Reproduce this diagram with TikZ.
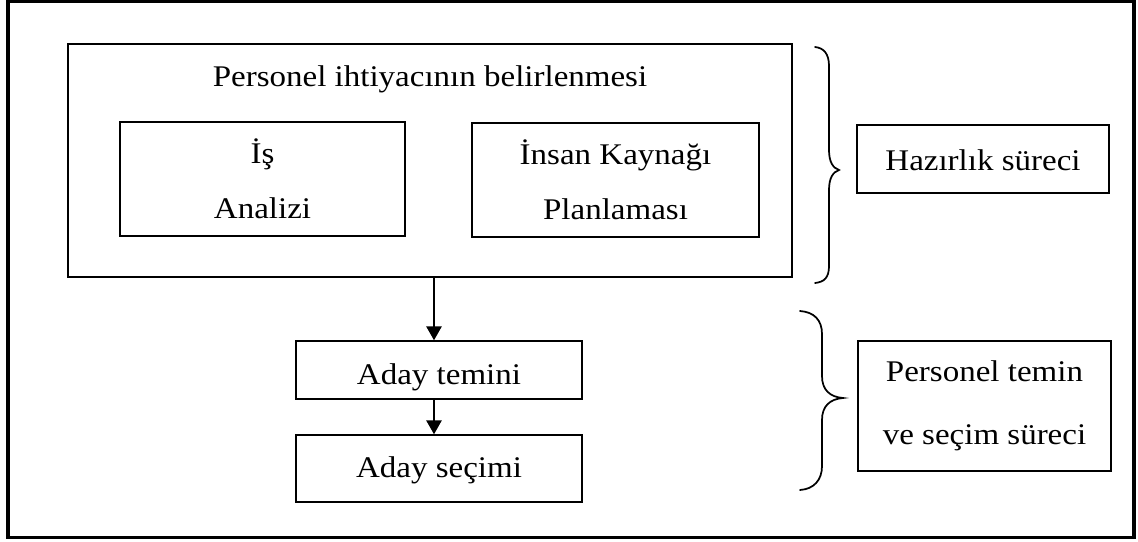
\documentclass[tikz,border=0pt]{standalone}
\usepackage{fontspec}
\setmainfont[FakeStretch=1.1]{Liberation Serif}
\usetikzlibrary{arrows.meta}
\begin{document}
\begin{tikzpicture}[x=0.75pt,y=-0.75pt,
  txt/.style={font=\fontsize{22.5}{41}\selectfont},
  box/.style={draw, line width=1.1pt, inner sep=0pt, align=center, txt},
  arr/.style={line width=1.5pt, -{Triangle[length=10.5pt,width=11.5pt]}},
  brace/.style={line width=1.3pt, line cap=round}]
\useasboundingbox (0,0) rectangle (1138,542);
% outer frame
\draw[line width=2.6pt] (8,1.5) rectangle (1134,537.5);

% staffing needs block
\node[box, line width=1.5pt, minimum width=543pt, minimum height=174.75pt] (need) at (430,160.5) {};
\node[txt, anchor=base] (needtitle) at (430,86) {Personel ihtiyacının belirlenmesi};
\node[box, minimum width=213.75pt, minimum height=85.5pt] (is) at (262.5,179) {İş\\Analizi};
\node[box, minimum width=215.25pt, minimum height=85.5pt] (ik) at (615.5,180) {İnsan Kaynağı\\Planlaması};

% candidate steps
\node[box, minimum width=214.5pt, minimum height=43.5pt, text height=24pt, text depth=3pt] (temin) at (439,370) {Aday temini};
\node[box, minimum width=214.5pt, minimum height=50.25pt, text height=17pt, text depth=4.25pt] (secim) at (439,468.5) {Aday seçimi};

% phase labels
\node[box, minimum width=189pt, minimum height=51pt, text height=20.5pt, text depth=4pt] (hazir) at (983,159) {Hazırlık süreci};
\node[box, minimum width=189.75pt, minimum height=97.5pt, font=\fontsize{22.5}{47}\selectfont] (temsec) at (984.5,406) {Personel temin\\ve seçim süreci};

% connectors
\coordinate (ax) at (434,0);
\draw[arr] (need.south -| ax) -- (temin.north -| ax);
\draw[arr] (temin.south -| ax) -- (secim.north -| ax);

% braces
\draw[brace] (815,47) .. controls (824,48) and (829,54) .. (829,66) -- (829,150)
  .. controls (829,162) and (833,168) .. (839,170)
  .. controls (833,172) and (829,178) .. (829,190) -- (829,266)
  .. controls (829,278) and (824,282) .. (815,283);
\draw[brace] (800,311) .. controls (814,312) and (822,320) .. (822,334) -- (822,376)
  .. controls (822,390) and (830,397) .. (843,398)
  .. controls (830,399) and (822,406) .. (822,420) -- (822,466)
  .. controls (822,480) and (814,489) .. (800,490);
\end{tikzpicture}
\end{document}
